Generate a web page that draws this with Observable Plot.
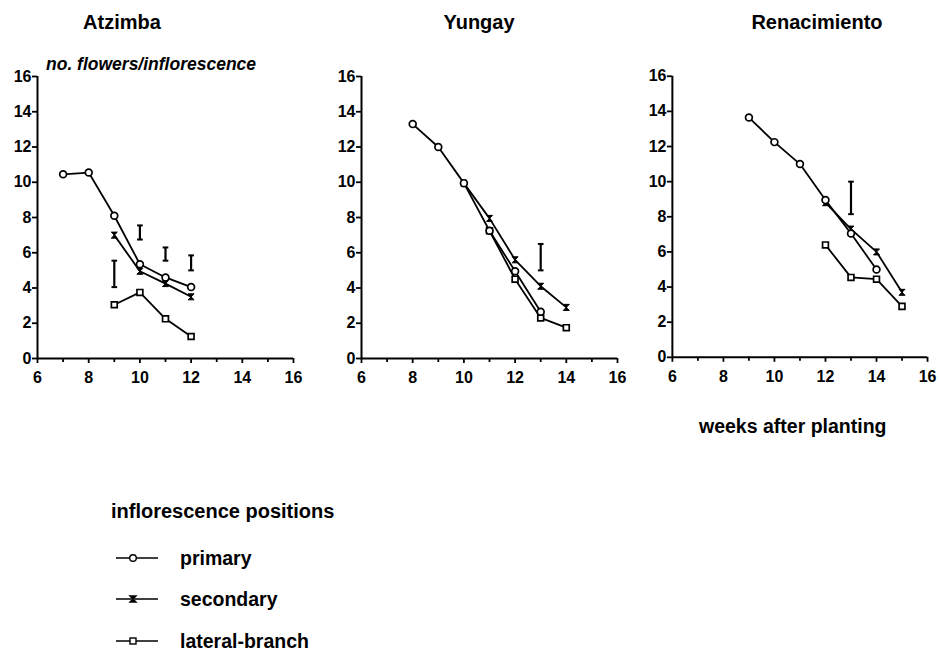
<!DOCTYPE html>
<html><head><meta charset="utf-8">
<script src="https://cdn.jsdelivr.net/npm/d3@7"></script>
<script src="https://cdn.jsdelivr.net/npm/@observablehq/plot@0.6"></script>
<style>
html,body{margin:0;padding:0;background:#fff;overflow:hidden;}
#root{position:relative;width:939px;height:653px;font-family:"Liberation Sans",Arial,sans-serif;font-weight:bold;color:#000;}
.pan{position:absolute;top:0;}
.title{position:absolute;top:10px;font-size:20px;line-height:24px;transform:translateX(-50%);white-space:nowrap;}
.lab{position:absolute;white-space:nowrap;}
</style></head>
<body><div id="root"></div>
<script>
// ---- data ----
const panelNames = ["Atzimba", "Yungay", "Renacimiento"];
const xTicks = [6, 8, 10, 12, 14, 16];
const xMinorTicks = [7, 9, 11, 13, 15];
const yTicks = [0, 2, 4, 6, 8, 10, 12, 14, 16];

// Atzimba
const atzPrimaryWeeks = [7, 8, 9, 10, 11, 12];
const atzPrimary = [10.45, 10.55, 8.1, 5.35, 4.6, 4.05];
const atzSecondaryWeeks = [9, 10, 11, 12];
const atzSecondary = [7.0, 4.95, 4.25, 3.5];
const atzLateralWeeks = [9, 10, 11, 12];
const atzLateral = [3.05, 3.75, 2.25, 1.25];
const atzBarWeeks = [9, 10, 11, 12];
const atzBarLow = [4.05, 6.75, 5.55, 5.0];
const atzBarHigh = [5.55, 7.55, 6.3, 5.85];

// Yungay
const yunPrimaryWeeks = [8, 9, 10, 11, 12, 13];
const yunPrimary = [13.3, 12.0, 9.95, 7.25, 4.95, 2.65];
const yunSecondaryWeeks = [10, 11, 12, 13, 14];
const yunSecondary = [9.95, 7.95, 5.6, 4.1, 2.9];
const yunLateralWeeks = [11, 12, 13, 14];
const yunLateral = [7.25, 4.5, 2.3, 1.75];
const yunBarWeeks = [13];
const yunBarLow = [5.0];
const yunBarHigh = [6.5];

// Renacimiento
const renPrimaryWeeks = [9, 10, 11, 12, 13, 14];
const renPrimary = [13.65, 12.25, 11.0, 8.95, 7.05, 5.0];
const renSecondaryWeeks = [12, 13, 14, 15];
const renSecondary = [8.8, 7.3, 6.0, 3.7];
const renLateralWeeks = [12, 13, 14, 15];
const renLateral = [6.4, 4.55, 4.45, 2.9];
const renBarWeeks = [13];
const renBarLow = [8.15];
const renBarHigh = [10.0];

const seriesNames = ["primary", "secondary", "lateral-branch"];

// ---- symbols ----
const hourglass = {draw(c, size){const s = Math.sqrt(size) / 2; c.moveTo(-s, -s); c.lineTo(s, -s); c.lineTo(-s, s); c.lineTo(s, s); c.closePath();}};
const cap = {draw(c, size){const s = Math.sqrt(size) / 2; c.moveTo(-s, 0); c.lineTo(s, 0);}};

function rows(weeks, vals){ return weeks.map((w, i) => ({w, v: vals[i]})); }
function bars(weeks, lo, hi){ return weeks.map((w, i) => ({w, lo: lo[i], hi: hi[i]})); }

const axisFont = {fontSize: 16, fontWeight: "bold", fontFamily: '"Liberation Sans", Arial, sans-serif', fill: "black"};

function panel(p, s, l, b){
  return Plot.plot({
    width: 305, height: 398,
    marginLeft: 37, marginRight: 12, marginTop: 76, marginBottom: 40,
    style: {fontFamily: '"Liberation Sans", Arial, sans-serif', fontWeight: "bold", fontSize: "16px", background: "white", overflow: "visible"},
    x: {domain: [6, 16], label: null},
    y: {domain: [0, 16], label: null},
    marks: [
      Plot.axisY({ticks: yTicks, tickSize: 5, tickPadding: 1, label: null, strokeWidth: 1.8, ...axisFont}),
      Plot.axisX({ticks: xTicks, tickSize: 5, tickPadding: 8, label: null, strokeWidth: 1.8, ...axisFont}),
      Plot.axisX({ticks: xMinorTicks, tickSize: 4, tickFormat: () => "", label: null, strokeWidth: 1.8}),
      Plot.ruleX([6], {stroke: "black", strokeWidth: 2}),
      Plot.ruleY([0], {stroke: "black", strokeWidth: 2}),
      Plot.line(p, {x: "w", y: "v", stroke: "black", strokeWidth: 1.8}),
      Plot.line(s, {x: "w", y: "v", stroke: "black", strokeWidth: 1.8}),
      Plot.line(l, {x: "w", y: "v", stroke: "black", strokeWidth: 1.8}),
      Plot.ruleX(b, {x: "w", y1: "lo", y2: "hi", stroke: "black", strokeWidth: 2.2}),
      Plot.dot(b, {x: "w", y: "lo", symbol: cap, r: 3.2, stroke: "black", strokeWidth: 2}),
      Plot.dot(b, {x: "w", y: "hi", symbol: cap, r: 3.2, stroke: "black", strokeWidth: 2}),
      Plot.dot(l, {x: "w", y: "v", symbol: "square", r: 3.3, fill: "white", stroke: "black", strokeWidth: 1.7}),
      Plot.dot(s, {x: "w", y: "v", symbol: hourglass, r: 3.4, fill: "black", stroke: "black", strokeWidth: 1}),
      Plot.dot(p, {x: "w", y: "v", r: 3.4, fill: "white", stroke: "black", strokeWidth: 1.7})
    ]
  });
}

const root = document.getElementById("root");
const panels = [
  [rows(atzPrimaryWeeks, atzPrimary), rows(atzSecondaryWeeks, atzSecondary), rows(atzLateralWeeks, atzLateral), bars(atzBarWeeks, atzBarLow, atzBarHigh)],
  [rows(yunPrimaryWeeks, yunPrimary), rows(yunSecondaryWeeks, yunSecondary), rows(yunLateralWeeks, yunLateral), bars(yunBarWeeks, yunBarLow, yunBarHigh)],
  [rows(renPrimaryWeeks, renPrimary), rows(renSecondaryWeeks, renSecondary), rows(renLateralWeeks, renLateral), bars(renBarWeeks, renBarLow, renBarHigh)]
];
const lefts = [0, 324, 635];
const titleX = [122, 479, 817];
panels.forEach((d, i) => {
  const div = document.createElement("div");
  div.className = "pan"; div.style.left = lefts[i] + "px";
  div.appendChild(panel(...d));
  root.appendChild(div);
  const t = document.createElement("div");
  t.className = "title"; t.style.left = titleX[i] + "px"; t.textContent = panelNames[i];
  root.appendChild(t);
});

function addLabel(text, x, y, size, extra){
  const e = document.createElement("div");
  e.className = "lab"; e.style.left = x + "px"; e.style.top = y + "px"; e.style.fontSize = size + "px";
  e.style.lineHeight = Math.round(size * 1.2) + "px";
  if (extra) Object.assign(e.style, extra);
  e.textContent = text; root.appendChild(e); return e;
}
addLabel("no. flowers/inflorescence", 46, 54, 17.5, {fontStyle: "italic"});
addLabel("weeks after planting", 699, 415, 19.5);
addLabel("inflorescence positions", 111, 499, 20);

// legend
const legendY = [558, 599, 641];
const ns = "http://www.w3.org/2000/svg";
seriesNames.forEach((name, i) => {
  const svg = document.createElementNS(ns, "svg");
  svg.setAttribute("width", 50); svg.setAttribute("height", 14);
  svg.style.position = "absolute"; svg.style.left = "113px"; svg.style.top = (legendY[i] - 7) + "px";
  const ln = document.createElementNS(ns, "line");
  ln.setAttribute("x1", 3); ln.setAttribute("x2", 45); ln.setAttribute("y1", 7); ln.setAttribute("y2", 7);
  ln.setAttribute("stroke", "black"); ln.setAttribute("stroke-width", 1.6);
  svg.appendChild(ln);
  let m;
  if (i === 0) { m = document.createElementNS(ns, "circle"); m.setAttribute("cx", 20); m.setAttribute("cy", 7); m.setAttribute("r", 3.3); m.setAttribute("fill", "white"); }
  else if (i === 1) { m = document.createElementNS(ns, "path"); m.setAttribute("d", "M17,4L23,4L17,10L23,10Z"); m.setAttribute("fill", "black"); }
  else { m = document.createElementNS(ns, "rect"); m.setAttribute("x", 17); m.setAttribute("y", 4); m.setAttribute("width", 6); m.setAttribute("height", 6); m.setAttribute("fill", "white"); }
  m.setAttribute("stroke", "black"); m.setAttribute("stroke-width", 1.4);
  svg.appendChild(m);
  root.appendChild(svg);
  addLabel(name, 180, legendY[i] - 11, 19.5);
});
</script>
</body></html>
